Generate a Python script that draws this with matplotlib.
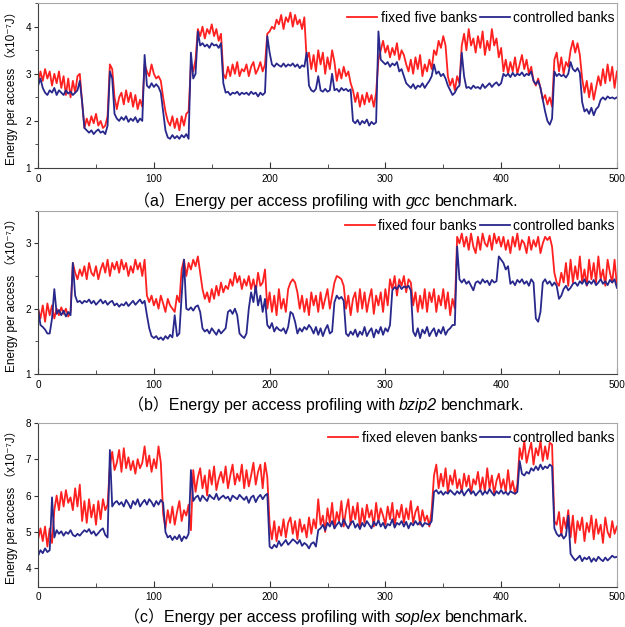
import numpy as np
import matplotlib
matplotlib.use('Agg')
from matplotlib import pyplot as plt
from matplotlib.offsetbox import TextArea, HPacker, AnnotationBbox
from matplotlib.ticker import MultipleLocator

plt.rcParams['font.family'] = ['Liberation Sans', 'Noto Sans CJK SC', 'DejaVu Sans']

# sample index, read every 2 units off the reference
x = np.arange(0, 501, 2)

# (a) gcc
gcc_fixed = [
    2.80, 3.05, 2.85, 3.10, 2.90, 3.05, 2.75, 3.00, 2.80, 3.05,
    2.70, 2.95, 2.55, 2.90, 2.50, 2.85, 2.60, 2.95, 3.00, 2.40,
    1.85, 2.05, 1.90, 2.10, 1.95, 2.15, 1.90, 2.00, 1.85, 1.90,
    2.10, 3.20, 3.10, 2.50, 2.25, 2.50, 2.60, 2.35, 2.65, 2.40,
    2.60, 2.30, 2.55, 2.25, 2.45, 2.30, 3.20, 3.05, 2.95, 3.20,
    3.00, 2.90, 2.95, 2.85, 2.50, 2.20, 2.00, 1.90, 2.10, 1.85,
    2.05, 1.80, 2.10, 1.90, 2.15, 2.20, 3.20, 3.05, 3.30, 3.95,
    3.80, 4.00, 3.75, 3.95, 3.85, 4.05, 3.80, 3.95, 3.70, 3.85,
    3.00, 2.90, 3.15, 2.95, 3.20, 3.00, 3.25, 2.95, 3.10, 3.05,
    3.20, 2.95, 3.15, 3.25, 3.00, 3.10, 3.25, 3.05, 3.20, 3.85,
    3.90, 4.00, 3.95, 4.15, 4.05, 4.25, 3.95, 4.20, 4.10, 4.30,
    4.00, 4.25, 4.05, 4.15, 3.95, 4.20, 3.30, 3.45, 3.10, 3.40,
    3.05, 3.50, 3.20, 3.45, 3.00, 3.35, 3.10, 3.50, 3.25, 2.85,
    3.10, 2.90, 3.15, 2.95, 3.05, 2.80, 2.65, 2.40, 2.60, 2.30,
    2.55, 2.35, 2.60, 2.40, 2.55, 2.30, 2.60, 3.30, 3.50, 3.70,
    3.45, 3.60, 3.35, 3.55, 3.40, 3.65, 3.30, 3.50, 3.40, 3.20,
    3.05, 3.30, 3.00, 3.35, 3.10, 3.40, 2.95, 3.20, 3.05, 3.30,
    3.10, 3.50, 3.40, 3.70, 3.55, 3.80, 3.60, 2.95, 2.75, 2.90,
    2.65, 2.95, 2.80, 3.60, 3.85, 3.50, 3.95, 3.60, 3.75, 3.45,
    3.80, 3.55, 3.90, 3.40, 3.70, 3.50, 3.95, 3.60, 3.75, 3.35,
    3.55, 3.05, 3.30, 3.00, 3.25, 3.05, 3.35, 3.00, 3.20, 3.40,
    3.10, 3.30, 3.00, 3.15, 2.85, 2.75, 2.90, 2.70, 2.45, 2.55,
    2.35, 2.50, 2.30, 3.30, 3.45, 3.05, 3.35, 3.00, 3.25, 3.15,
    3.50, 3.70, 3.45, 3.65, 3.40, 2.90, 2.60, 2.85, 2.50, 2.80,
    2.45, 2.70, 2.95, 2.75, 3.10, 2.80, 3.20, 2.85, 3.15, 2.70,
    3.05]
gcc_ctrl = [
    2.75, 2.90, 2.70, 2.60, 2.55, 2.65, 2.60, 2.70, 2.55, 2.65,
    2.60, 2.55, 2.65, 2.58, 2.62, 2.55, 2.60, 2.65, 2.85, 2.40,
    1.85, 1.80, 1.75, 1.80, 1.72, 1.78, 1.82, 1.75, 1.78, 1.72,
    1.90, 3.05, 2.90, 2.15, 2.05, 2.00, 2.08, 2.02, 2.10, 1.98,
    2.05, 2.00, 2.08, 1.97, 2.05, 2.00, 3.40, 2.75, 2.70, 2.80,
    2.72, 2.78, 2.72, 2.60, 2.20, 1.80, 1.65, 1.62, 1.70, 1.63,
    1.68, 1.62, 1.70, 1.65, 1.72, 1.62, 3.45, 2.90, 3.00, 3.90,
    3.60, 3.65, 3.58, 3.62, 3.55, 3.65, 3.60, 3.62, 3.55, 3.65,
    2.80, 2.60, 2.62, 2.55, 2.60, 2.58, 2.62, 2.55, 2.60, 2.57,
    2.60, 2.55, 2.62, 2.57, 2.60, 2.52, 2.60, 2.55, 2.60, 3.80,
    3.45, 3.20, 3.15, 3.22, 3.18, 3.15, 3.22, 3.15, 3.20, 3.17,
    3.22, 3.15, 3.20, 3.12, 3.18, 3.15, 3.45, 2.75, 2.65, 2.62,
    2.68, 2.95, 2.65, 2.62, 2.68, 2.62, 2.65, 3.00, 2.65, 2.68,
    2.62, 2.70, 2.65, 2.68, 2.63, 2.67, 2.00, 1.95, 2.02, 1.92,
    2.00, 1.95, 2.03, 1.90, 1.98, 1.93, 1.97, 3.90, 3.30, 3.25,
    3.20, 3.25, 3.15, 3.22, 3.18, 3.25, 3.05, 3.10, 2.95, 2.80,
    2.75, 2.70, 2.78, 2.68, 2.75, 2.72, 2.80, 2.70, 2.78, 2.85,
    2.95, 3.20, 3.00, 3.05, 2.95, 3.00, 2.90, 2.75, 2.65, 2.55,
    2.60, 2.70, 2.75, 3.45, 2.95, 2.70, 2.72, 2.68, 2.75, 2.70,
    2.72, 2.68, 2.78, 2.70, 2.75, 2.80, 2.72, 2.78, 2.82, 2.75,
    2.80, 3.00, 2.95, 3.00, 2.93, 3.02, 2.95, 3.00, 2.97, 3.03,
    2.95, 3.00, 2.97, 3.05, 2.85, 2.78, 2.85, 2.70, 2.45, 2.20,
    2.00, 1.92, 2.05, 3.05, 2.95, 3.00, 2.95, 2.98, 2.92, 3.00,
    3.25, 3.10, 3.05, 3.12, 3.02, 2.40, 2.20, 2.25, 2.15, 2.28,
    2.12, 2.25, 2.30, 2.45, 2.50, 2.45, 2.52, 2.48, 2.50, 2.47,
    2.50]

# (b) bzip2
bzip2_fixed = [
    2.00, 1.85, 2.05, 1.80, 2.08, 1.90, 2.05, 1.85, 2.00, 1.90,
    2.02, 1.92, 2.00, 1.88, 1.95, 2.70, 2.55, 2.45, 2.60, 2.50,
    2.65, 2.45, 2.70, 2.55, 2.50, 2.65, 2.45, 2.60, 2.70, 2.55,
    2.75, 2.50, 2.70, 2.60, 2.72, 2.55, 2.75, 2.60, 2.70, 2.50,
    2.65, 2.55, 2.75, 2.60, 2.70, 2.50, 2.75, 2.20, 2.10, 2.20,
    2.05, 2.15, 2.00, 2.20, 2.08, 1.95, 2.15, 2.05, 2.00, 1.95,
    2.20, 2.10, 2.60, 2.75, 2.50, 2.70, 2.60, 2.75, 2.65, 2.80,
    2.55, 2.30, 2.15, 2.25, 2.10, 2.30, 2.15, 2.35, 2.20, 2.40,
    2.25, 2.35, 2.30, 2.45, 2.35, 2.55, 2.40, 2.50, 2.30, 2.45,
    2.35, 2.50, 2.30, 2.45, 2.25, 2.55, 2.35, 2.40, 2.60, 2.00,
    2.25, 1.95, 2.20, 1.90, 2.30, 2.00, 2.15, 1.95, 2.30, 2.40,
    2.45, 2.40, 2.25, 2.00, 2.20, 1.95, 2.15, 1.90, 2.25, 2.05,
    2.20, 1.95, 2.25, 2.00, 2.15, 2.30, 2.00, 2.20, 2.40, 2.50,
    2.48, 2.45, 2.35, 2.00, 2.20, 1.90, 2.15, 2.25, 1.95, 2.30,
    2.00, 2.25, 1.95, 2.15, 2.30, 1.92, 2.20, 2.05, 2.25, 1.95,
    2.30, 2.05, 2.45, 2.30, 2.50, 2.20, 2.45, 2.35, 2.50, 2.25,
    2.45, 2.40, 2.05, 2.25, 1.95, 2.20, 2.00, 2.30, 1.95, 2.25,
    2.10, 2.30, 1.95, 2.20, 2.05, 2.30, 2.00, 2.25, 1.90, 2.15,
    2.00, 3.10, 3.00, 3.15, 2.95, 3.10, 2.90, 3.15, 2.95, 2.85,
    3.10, 2.90, 3.15, 3.00, 2.95, 3.12, 2.90, 3.15, 3.00, 3.10,
    2.95, 3.10, 2.90, 3.05, 2.85, 3.10, 2.95, 3.15, 2.90, 3.05,
    3.00, 2.85, 3.10, 2.90, 3.05, 2.95, 3.10, 2.85, 3.00, 3.10,
    3.05, 3.10, 2.95, 2.55, 2.40, 2.35, 2.55, 2.40, 2.70, 2.35,
    2.75, 2.40, 2.65, 2.45, 2.80, 2.40, 2.60, 2.35, 2.75, 2.45,
    2.70, 2.40, 2.80, 2.45, 2.60, 2.35, 2.75, 2.55, 2.40, 2.75,
    2.35]
bzip2_ctrl = [
    2.00, 1.75, 1.72, 1.68, 1.62, 1.62, 1.85, 2.30, 1.92, 1.98,
    1.90, 1.97, 1.88, 1.95, 1.90, 2.70, 2.20, 2.10, 2.12, 2.08,
    2.12, 2.10, 2.14, 2.08, 2.12, 2.06, 2.10, 2.14, 2.08, 2.12,
    2.06, 2.10, 2.12, 2.05, 2.08, 2.03, 2.07, 2.05, 2.10, 2.04,
    2.08, 2.12, 2.06, 2.10, 2.14, 2.08, 2.12, 1.90, 1.70, 1.58,
    1.55, 1.58, 1.53, 1.56, 1.52, 1.58, 1.54, 1.60, 1.56, 1.90,
    1.58, 1.62, 2.20, 2.75, 2.00, 1.98, 2.02, 1.97, 2.03, 2.05,
    1.95, 1.70, 1.65, 1.68, 1.62, 1.70, 1.65, 1.60, 1.68, 1.62,
    1.66, 1.70, 1.95, 1.98, 1.92, 2.00, 1.90, 1.62, 1.58, 1.55,
    1.62, 2.00, 2.25, 2.10, 2.35, 2.05, 2.20, 1.95, 2.15, 1.75,
    1.70, 1.78, 1.65, 1.72, 1.68, 1.66, 1.70, 1.62, 1.72, 1.95,
    1.92, 1.80, 1.62, 1.70, 1.65, 1.72, 1.68, 1.75, 1.70, 1.62,
    1.72, 1.60, 1.70, 1.58, 1.68, 1.75, 1.62, 1.65, 2.10, 2.20,
    2.15, 2.18, 2.12, 1.62, 1.58, 1.65, 1.60, 1.68, 1.57, 1.65,
    1.60, 1.72, 1.58, 1.65, 1.70, 1.56, 1.68, 1.62, 1.72, 1.60,
    1.70, 1.65, 1.75, 2.28, 2.33, 2.30, 2.36, 2.30, 2.34, 2.32,
    2.35, 2.28, 1.65, 1.58, 1.70, 1.55, 1.68, 1.62, 1.72, 1.58,
    1.65, 1.70, 1.58, 1.68, 1.62, 1.72, 1.60, 1.67, 1.70, 1.75,
    1.75, 2.95, 2.45, 2.40, 2.45, 2.38, 2.42, 2.35, 2.28, 2.40,
    2.42, 2.38, 2.45, 2.40, 2.43, 2.36, 2.44, 2.40, 2.42, 2.80,
    2.75, 2.70, 2.60, 2.65, 2.38, 2.42, 2.36, 2.44, 2.40, 2.45,
    2.38, 2.42, 2.35, 2.45, 2.40, 1.85, 1.80, 1.95, 2.40, 2.45,
    2.38, 2.42, 2.35, 2.40, 2.35, 2.15, 2.20, 2.30, 2.35, 2.28,
    2.32, 2.38, 2.40, 2.35, 2.42, 2.38, 2.45, 2.36, 2.42, 2.38,
    2.44, 2.36, 2.40, 2.45, 2.38, 2.42, 2.36, 2.44, 2.40, 2.45,
    2.32]

# (c) soplex
soplex_fixed = [
    4.80, 5.10, 4.75, 5.15, 4.60, 5.10, 4.70, 5.60, 6.00, 5.60,
    6.10, 5.70, 6.15, 5.80, 5.95, 5.60, 6.20, 5.70, 6.30, 5.30,
    5.85, 5.25, 5.90, 5.40, 5.75, 5.20, 5.85, 5.35, 5.90, 5.60,
    5.75, 6.80, 7.20, 6.70, 6.90, 7.25, 6.65, 7.30, 6.75, 7.05,
    6.70, 6.95, 6.60, 7.00, 6.75, 6.90, 7.35, 6.80, 7.10, 6.65,
    7.00, 6.75, 7.35, 6.90, 5.50, 5.10, 5.60, 5.25, 5.70, 5.20,
    5.55, 5.85, 5.30, 5.60, 5.45, 5.75, 5.05, 6.70, 6.10, 6.50,
    6.75, 6.20, 6.55, 6.00, 6.70, 6.30, 6.80, 6.15, 6.45, 6.65,
    6.35, 6.80, 6.20, 6.55, 6.85, 6.30, 6.60, 6.40, 6.85, 6.20,
    6.70, 6.25, 6.55, 6.90, 6.30, 6.65, 6.85, 6.20, 6.90, 6.50,
    5.20, 4.80, 5.30, 4.75, 5.15, 4.90, 5.35, 4.85, 5.25, 5.40,
    4.95, 5.30, 4.80, 5.35, 5.00, 5.20, 4.85, 5.40, 4.95, 5.35,
    5.10, 5.90, 5.20, 5.45, 5.00, 5.65, 5.25, 5.80, 5.10, 5.55,
    5.30, 5.85, 5.15, 5.60, 5.90, 5.20, 5.70, 5.35, 5.80, 5.10,
    5.65, 5.25, 5.75, 5.40, 5.60, 5.15, 5.80, 5.30, 5.65, 5.45,
    5.20, 5.70, 5.35, 5.80, 5.15, 5.60, 5.40, 5.75, 5.25, 5.65,
    5.35, 5.85, 5.25, 5.55, 5.70, 5.20, 5.60, 5.30, 5.45, 5.15,
    5.60, 6.55, 6.85, 6.20, 6.60, 6.25, 6.75, 6.10, 6.55, 6.30,
    6.70, 6.20, 6.45, 6.10, 6.60, 6.25, 6.55, 6.05, 6.45, 6.30,
    6.65, 6.15, 6.50, 6.10, 6.75, 6.20, 6.55, 6.05, 6.40, 6.60,
    6.20, 6.45, 6.10, 6.70, 6.15, 6.40, 6.05, 6.30, 7.30, 7.00,
    7.50, 6.90, 7.20, 7.45, 6.85, 7.30, 7.10, 7.50, 6.95, 7.35,
    7.00, 7.45, 7.40, 5.30, 5.20, 5.55, 4.90, 5.40, 5.10, 5.60,
    4.85, 5.45, 4.70, 5.30, 5.05, 5.40, 4.75, 5.25, 5.00, 5.45,
    4.80, 5.35, 4.95, 5.20, 4.70, 5.40, 5.00, 4.85, 5.30, 4.95,
    5.15]
soplex_ctrl = [
    4.35, 4.50, 4.42, 4.55, 4.45, 4.50, 5.95, 4.85, 5.05, 4.95,
    5.02, 4.90, 5.00, 4.95, 5.05, 4.92, 4.88, 4.95, 4.90, 4.98,
    5.05, 5.00, 5.08, 4.95, 5.02, 4.90, 4.97, 5.05, 5.10, 4.92,
    4.85, 7.25, 5.70, 5.80, 5.85, 5.75, 5.82, 5.70, 5.88, 5.78,
    5.65, 5.85, 5.75, 5.90, 5.70, 5.80, 5.88, 5.75, 5.90, 5.82,
    5.70, 5.85, 5.75, 5.88, 5.80, 5.00, 4.85, 4.90, 4.78, 4.88,
    4.80, 4.92, 4.75, 4.88, 4.82, 4.95, 6.70, 5.85, 5.95, 6.00,
    5.85, 6.00, 5.92, 5.85, 6.02, 5.95, 5.90, 6.05, 5.88, 5.95,
    6.00, 5.92, 5.97, 5.85, 6.00, 5.95, 5.90, 6.02, 5.95, 5.88,
    5.97, 5.80, 5.95, 6.00, 5.82, 5.95, 6.02, 5.90, 6.00, 6.05,
    4.60, 4.55, 4.65, 4.58, 4.75, 4.62, 4.70, 4.78, 4.65, 4.72,
    4.80, 4.75, 4.68, 4.78, 4.62, 4.70, 4.65, 4.55, 4.68, 4.72,
    4.60, 5.05, 5.10, 5.20, 5.05, 5.25, 5.15, 5.30, 5.10, 5.20,
    5.28, 5.15, 5.35, 5.20, 5.10, 5.25, 5.30, 5.12, 5.22, 5.08,
    5.25, 5.15, 5.30, 5.20, 5.10, 5.28, 5.18, 5.32, 5.15, 5.25,
    5.10, 5.22, 5.18, 5.35, 5.12, 5.25, 5.20, 5.30, 5.15, 5.28,
    5.10, 5.25, 5.18, 5.30, 5.20, 5.28, 5.15, 5.25, 5.22, 5.20,
    5.30, 6.10, 6.15, 6.05, 6.12, 6.02, 6.10, 6.05, 6.15, 6.08,
    6.02, 6.12, 6.05, 6.15, 6.00, 6.10, 6.18, 6.05, 6.12, 6.00,
    6.08, 6.15, 6.02, 6.12, 6.05, 6.18, 6.08, 6.00, 6.12, 6.05,
    6.15, 6.05, 6.10, 6.02, 6.12, 6.08, 6.05, 6.10, 6.95, 6.60,
    6.55, 6.65, 6.60, 6.75, 6.68, 6.80, 6.70, 6.85, 6.72, 6.80,
    6.75, 6.85, 6.80, 5.10, 4.95, 4.88, 4.95, 4.82, 4.90, 5.45,
    4.40, 4.30, 4.22, 4.28, 4.35, 4.20, 4.30, 4.25, 4.32, 4.18,
    4.28, 4.20, 4.32, 4.25, 4.20, 4.30, 4.22, 4.28, 4.35, 4.30,
    4.32]

fixed_labels = ['fixed five banks', 'fixed four banks', 'fixed eleven banks']
ctrl_label = 'controlled banks'
benchmarks = ['gcc', 'bzip2', 'soplex']
letters = ['a', 'b', 'c']

RED = '#ff2020'
BLUE = '#28288c'

fig = plt.figure(figsize=(6.25, 6.27), dpi=100)

# axes boxes in figure fraction (left, bottom, width, height)
boxes = [(0.061, 0.732, 0.926, 0.263),
         (0.061, 0.4035, 0.926, 0.2605),
         (0.061, 0.0643, 0.926, 0.2616)]
ylims = [(1, 4.5), (1, 3.5), (3.5, 8)]
yminor = [0.5, 0.5, None]
caption_y = [0.680, 0.355, 0.016]

series = [(gcc_fixed, gcc_ctrl), (bzip2_fixed, bzip2_ctrl), (soplex_fixed, soplex_ctrl)]

for i, (fixed, ctrl) in enumerate(series):
    assert len(fixed) == len(x) and len(ctrl) == len(x)
    ax = fig.add_axes(boxes[i])
    ax.plot(x, fixed, color=RED, lw=1.3, label=fixed_labels[i])
    ax.plot(x, ctrl, color=BLUE, lw=1.3, label=ctrl_label)
    ax.set_xlim(0, 500)
    ax.set_ylim(*ylims[i])
    ax.xaxis.set_major_locator(MultipleLocator(100))
    ax.xaxis.set_minor_locator(MultipleLocator(50))
    ax.yaxis.set_major_locator(MultipleLocator(1))
    if yminor[i]:
        ax.yaxis.set_minor_locator(MultipleLocator(yminor[i]))
    ax.tick_params(axis='x', which='both', direction='in', labelsize=7.2, pad=4,
                   color='#333333')
    ax.tick_params(axis='x', which='major', length=4)
    ax.tick_params(axis='x', which='minor', length=3)
    ax.tick_params(axis='y', which='both', direction='out', labelsize=7.2, pad=2,
                   color='#333333')
    ax.tick_params(axis='y', which='major', length=3)
    ax.tick_params(axis='y', which='minor', length=2)
    for s in ['left', 'bottom']:
        ax.spines[s].set_color('#404040')
    for s in ['top', 'right']:
        ax.spines[s].set_color('#a8a8a8')
    ax.set_ylabel('Energy per access （x10⁻⁷J）', fontsize=8.5)
    ax.yaxis.set_label_coords(-0.035, 0.5)
    ax.legend(loc='upper right', bbox_to_anchor=(1.007, 0.99), ncol=2,
              frameon=False, fontsize=10,
              handlelength=2.15, handletextpad=0.25, columnspacing=0.2,
              borderaxespad=0.25, borderpad=0.2)

    # caption with italic benchmark name
    tp = dict(fontsize=11.5)
    box = HPacker(children=[
        TextArea('（' + letters[i] + '）Energy per access profiling with', textprops=tp),
        TextArea(benchmarks[i], textprops=dict(fontsize=11.5, fontstyle='italic')),
        TextArea('benchmark.', textprops=tp)], align='baseline', pad=0, sep=3.0)
    ab = AnnotationBbox(box, (0.522, caption_y[i]), xycoords='figure fraction',
                        frameon=False, box_alignment=(0.5, 0.5), pad=0)
    fig.add_artist(ab)

fig.savefig('out.png', dpi=100)
